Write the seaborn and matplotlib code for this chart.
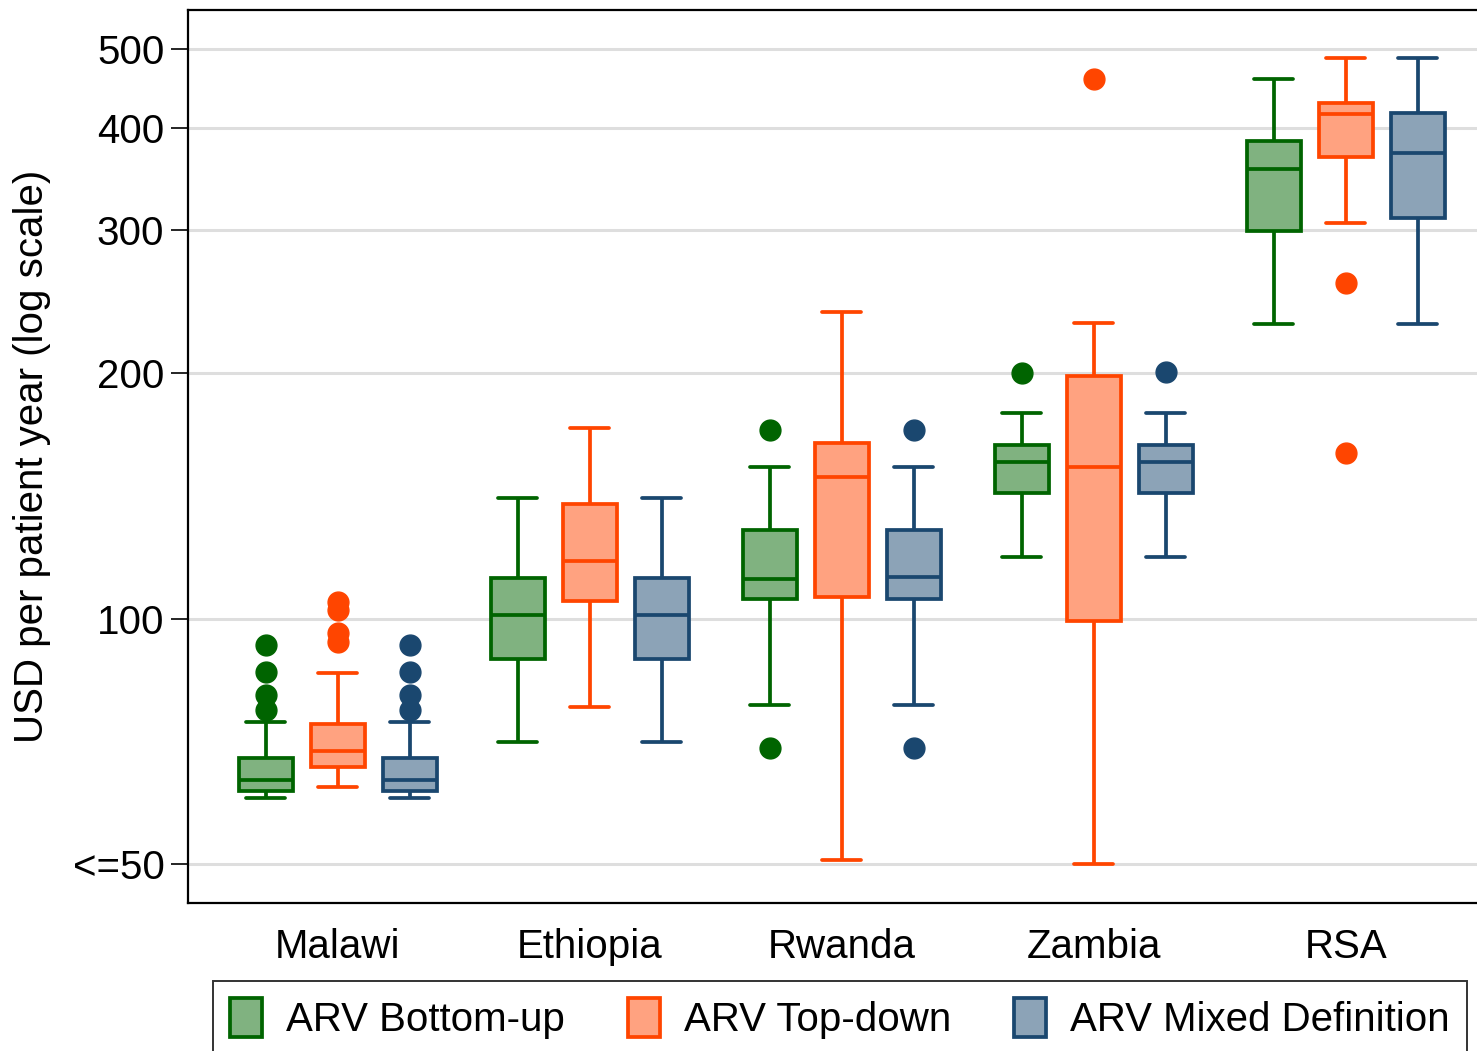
import numpy as np
import pandas as pd
import matplotlib
matplotlib.use("Agg")
import matplotlib.pyplot as plt
from matplotlib.patches import Patch
from matplotlib.ticker import NullLocator, FixedLocator, FixedFormatter
import seaborn as sns

countries = ["Malawi", "Ethiopia", "Rwanda", "Zambia", "RSA"]
methods = ["ARV Bottom-up", "ARV Top-down", "ARV Mixed Definition"]

# ARV Bottom-up (box summaries, USD per patient year)
bu_low = [60.4, 70.6, 78.4, 119.1, 229.8]
bu_q1 = [61.6, 89.2, 105.7, 142.7, 298.8]
bu_med = [63.5, 101.1, 112.0, 155.8, 355.9]
bu_q3 = [67.5, 112.2, 128.6, 163.3, 385.9]
bu_high = [74.8, 140.6, 153.6, 179.0, 459.0]
bu_out = [[77.3, 80.7, 86.2, 92.9], [], [69.5, 170.5], [200.0], []]

# ARV Top-down
td_low = [62.3, 77.9, 50.6, 50.0, 305.6]
td_q1 = [65.8, 105.3, 106.5, 99.4, 368.9]
td_med = [68.8, 117.8, 149.2, 153.4, 416.3]
td_q3 = [74.3, 138.2, 164.2, 198.3, 429.6]
td_high = [85.8, 171.6, 238.1, 230.7, 487.0]
td_out = [[93.8, 96.0, 102.6, 105.0], [], [], [459.4], [159.7, 258.0]]

# ARV Mixed Definition
md_low = [60.4, 70.6, 78.4, 119.1, 229.8]
md_q1 = [61.6, 89.2, 105.7, 142.7, 310.5]
md_med = [63.5, 101.1, 112.7, 155.8, 373.1]
md_q3 = [67.5, 112.2, 128.6, 163.3, 417.7]
md_high = [74.8, 140.6, 153.6, 179.0, 487.0]
md_out = [[77.3, 80.7, 86.2, 92.9], [], [69.5, 170.5], [200.8], []]

ytick_values = [50, 100, 200, 300, 400, 500]
ytick_labels = ["<=50", "100", "200", "300", "400", "500"]

fills = ["#80b280", "#ffa280", "#8ca3b7"]
edges = ["#006400", "#ff4500", "#1a476f"]


def sample(low, q1, med, q3, high, outl):
    # a sample whose quartiles and adjacent values reproduce the read box
    return [low] + [q1] * 20 + [med] * 20 + [q3] * 20 + [high] + list(outl)


rows = []
for m, arrs in zip(methods, [
        (bu_low, bu_q1, bu_med, bu_q3, bu_high, bu_out),
        (td_low, td_q1, td_med, td_q3, td_high, td_out),
        (md_low, md_q1, md_med, md_q3, md_high, md_out)]):
    for i, c in enumerate(countries):
        vals = sample(*(a[i] for a in arrs))
        for v in vals:
            rows.append((c, m, v))
df = pd.DataFrame(rows, columns=["country", "method", "value"])

sns.set_style("ticks")
plt.rcParams["font.family"] = ["Liberation Sans", "DejaVu Sans"]
plt.rcParams["text.color"] = "black"
plt.rcParams["axes.labelcolor"] = "black"
plt.rcParams["xtick.color"] = "black"
plt.rcParams["ytick.color"] = "black"

FS = 29

fig = plt.figure(figsize=(14.77, 10.51), dpi=100)
ax = fig.add_axes([188 / 1477, 1 - 903 / 1051, 1 - 188 / 1477, (903 - 10) / 1051])

palette = dict(zip(methods, fills))
for m, edge in zip(methods, edges):
    sub = df[df["method"] == m]
    sns.boxplot(data=sub, x="country", y="value", hue="method",
                order=countries, hue_order=methods, palette=palette,
                width=0.857, gap=0.25, dodge=True, saturation=1,
                linecolor=edge, linewidth=2.7, whis=1.5, fliersize=15,
                flierprops=dict(marker="o", markersize=15,
                                markerfacecolor=edge, markeredgecolor=edge),
                capwidths=0.155, legend=False, ax=ax)

ax.set_yscale("log")
ax.set_ylim(44.85, 558)
ax.set_xlim(-0.595, 4.52)
ax.yaxis.set_major_locator(FixedLocator(ytick_values))
ax.yaxis.set_major_formatter(FixedFormatter(ytick_labels))
ax.yaxis.set_minor_locator(NullLocator())
ax.yaxis.grid(True, color="#dedede", linewidth=2.2)
ax.set_axisbelow(True)

ax.tick_params(axis="y", labelsize=FS, length=12, width=1.2, pad=5,
               color="black", labelcolor="black")
ax.tick_params(axis="x", labelsize=FS, length=0, pad=18, labelcolor="black")
ax.set_xlabel("")
ax.set_ylabel("USD per patient year (log scale)", fontsize=FS, color="black")
ax.yaxis.set_label_coords(-0.106, 0.5)

for s in ["left", "top", "bottom"]:
    ax.spines[s].set_visible(True)
    ax.spines[s].set_linewidth(1.6)
    ax.spines[s].set_color("black")
ax.spines["right"].set_visible(False)

handles = [Patch(facecolor=f, edgecolor=e, linewidth=2.7) for f, e in zip(fills, edges)]
leg = fig.legend(handles, methods, loc="upper left",
                 bbox_to_anchor=(213 / 1477, 1 - 981 / 1051),
                 ncol=3, fontsize=FS, frameon=True, fancybox=False,
                 handlelength=0.8, handleheight=1.1, handletextpad=0.6,
                 columnspacing=1.55, borderpad=0.42, borderaxespad=0)
leg.get_frame().set_edgecolor("black")
leg.get_frame().set_linewidth(1.4)
for t in leg.get_texts():
    t.set_color("black")

fig.savefig("out.png", dpi=100)
